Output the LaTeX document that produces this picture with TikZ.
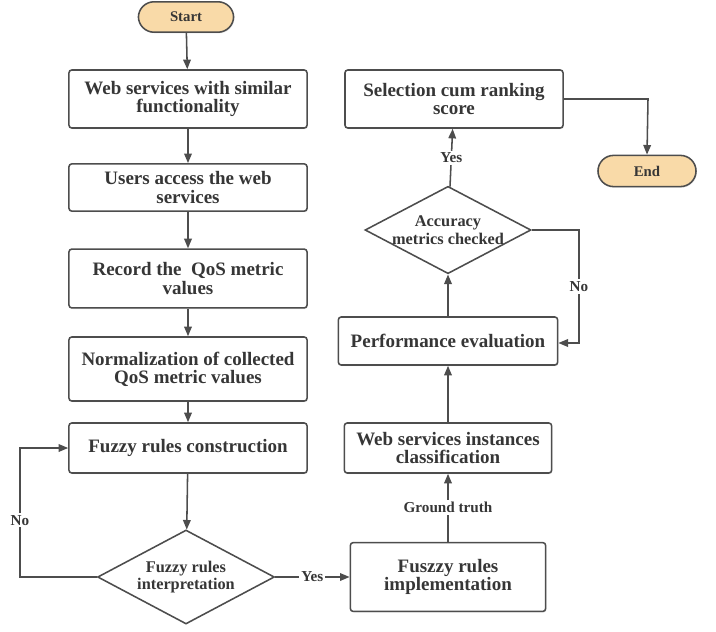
\documentclass[tikz,border=0pt]{standalone}
\usepackage{fontspec}
\setmainfont{Liberation Serif}[BoldFont={Liberation Serif Bold}]
\usepackage{tikz}
\usetikzlibrary{positioning,arrows.meta,shapes.geometric,shadows}
\definecolor{linegray}{HTML}{4D4D4D}
\definecolor{textgray}{HTML}{363636}
\definecolor{termfill}{HTML}{F9DAA8}
\tikzset{
  flowarrow/.style={-{Triangle[length=2.4mm,width=1.9mm]}, line width=1.1pt, draw=linegray},
  stepbox/.style={draw=linegray, line width=1.1pt, rounded corners=2pt, fill=white, text=textgray, align=center,
    font=\rmfamily\bfseries\fontsize{13.5}{13}\selectfont, inner sep=0pt,
    drop shadow={opacity=0.2, shadow xshift=0.6pt, shadow yshift=-0.8pt}},
  termbox/.style={draw=linegray, line width=1.1pt, rounded corners=0.39cm, fill=termfill, text=textgray,
    font=\rmfamily\bfseries\fontsize{10.5}{12}\selectfont, inner sep=0pt,
    drop shadow={opacity=0.2, shadow xshift=0.6pt, shadow yshift=-0.8pt}},
  decision/.style={draw=linegray, line width=1.1pt, diamond, aspect=1.9, fill=white, text=textgray, align=center,
    font=\rmfamily\bfseries\fontsize{11.6}{12.5}\selectfont, inner sep=0pt},
  relabel/.style={fill=white, text=textgray, inner sep=1.5pt, font=\rmfamily\bfseries\fontsize{10.8}{12}\selectfont}
}
\begin{document}
\begin{tikzpicture}[x=0.025cm, y=-0.025cm]
  \useasboundingbox (0,0) rectangle (716,631);
  % left column
  \node[termbox, minimum width=2.38cm, minimum height=0.76cm] (start) at (186,17) {Start};
  \node[stepbox, minimum width=5.95cm, minimum height=1.45cm] (websrv) at (188,99) {Web services with similar\\ functionality};
  \node[stepbox, minimum width=5.95cm, minimum height=1.18cm] (access) at (188,187.5) {Users access the web\\ services};
  \node[stepbox, minimum width=5.95cm, minimum height=1.47cm] (record) at (188,278.5) {Record the~ QoS metric\\ values};
  \node[stepbox, minimum width=5.95cm, minimum height=1.6cm] (norm) at (188,369) {Normalization of collected\\ QoS metric values};
  \node[stepbox, minimum width=5.95cm, minimum height=1.25cm] (construct) at (188,448) {Fuzzy rules construction};
  \node[decision, minimum width=4.42cm, minimum height=2.35cm] (interp) at (186,577) {Fuzzy rules\\ interpretation};
  % right column
  \node[stepbox, minimum width=4.88cm, minimum height=1.72cm] (impl) at (448,577) {Fuszzy rules\\ implementation};
  \node[stepbox, minimum width=5.18cm, minimum height=1.25cm] (classif) at (448,448) {Web services instances\\ classification};
  \node[stepbox, minimum width=5.48cm, minimum height=1.2cm] (perf) at (448,341) {Performance evaluation};
  \node[decision, minimum width=4.08cm, minimum height=2.13cm] (accur) at (448,230) {Accuracy\\ metrics checked};
  \node[stepbox, minimum width=5.45cm, minimum height=1.45cm] (select) at (454,99) {Selection cum ranking\\ score};
  \node[termbox, minimum width=2.45cm, minimum height=0.78cm] (end) at (647,171) {End};
  \coordinate (noleft) at (20,577);
  \coordinate (noright) at (579,230);
  \coordinate (endturn) at (648,99);
  % connectors
  \draw[flowarrow] (start) -- (websrv);
  \draw[flowarrow] (websrv) -- (access);
  \draw[flowarrow] (access) -- (record);
  \draw[flowarrow] (record) -- (norm);
  \draw[flowarrow] (norm) -- (construct);
  \draw[flowarrow] (construct) -- (interp);
  \draw[flowarrow] (interp.west) -- (noleft) |- (construct.west)
    node[relabel, pos=0.22] {No};
  \draw[flowarrow] (interp.east) -- node[relabel, pos=0.5] {Yes} (impl.west);
  \draw[flowarrow] (impl) -- node[relabel] {Ground truth} (classif);
  \draw[flowarrow] (classif) -- (perf);
  \draw[flowarrow] (perf) -- (accur);
  \draw[flowarrow] (accur.east) -- (noright) |- ([yshift=-0.05cm]perf.east)
    node[relabel, pos=0.25] {No};
  \draw[flowarrow] (accur) -- node[relabel] {Yes} (select);
  \draw[flowarrow] (select.east) -- (endturn) -- (end.north);
\end{tikzpicture}
\end{document}
